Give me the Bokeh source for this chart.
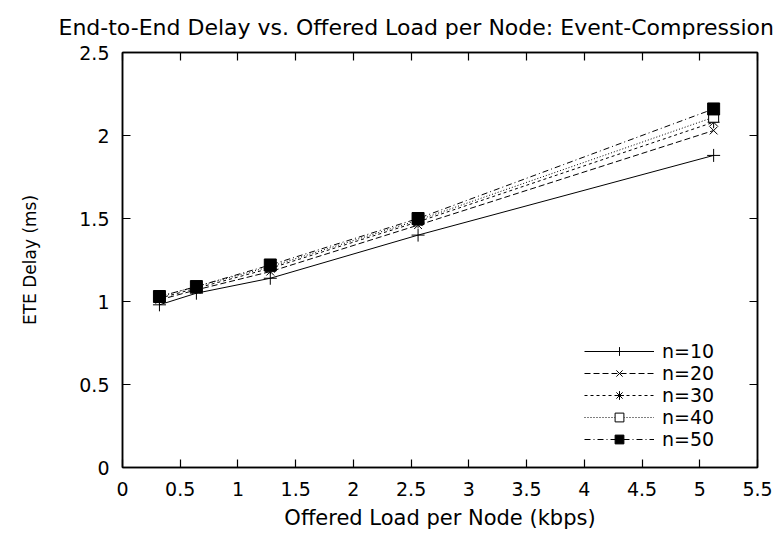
from bokeh.plotting import figure
from bokeh.models import LinearAxis, Legend, LegendItem, FixedTicker, Range1d, Title
from bokeh.embed import file_html
from bokeh.resources import INLINE

# ---- data ----
load_kbps = [0.32, 0.64, 1.28, 2.56, 5.12]
delay_n10 = [0.98, 1.05, 1.14, 1.40, 1.88]
delay_n20 = [1.01, 1.07, 1.18, 1.46, 2.03]
delay_n30 = [1.02, 1.08, 1.20, 1.48, 2.08]
delay_n40 = [1.03, 1.09, 1.21, 1.49, 2.11]
delay_n50 = [1.03, 1.09, 1.22, 1.50, 2.16]
series_labels = ["n=10", "n=20", "n=30", "n=40", "n=50"]
x_ticks = [0, 0.5, 1, 1.5, 2, 2.5, 3, 3.5, 4, 4.5, 5, 5.5]
y_ticks = [0, 0.5, 1, 1.5, 2, 2.5]

title_text = "End-to-End Delay vs. Offered Load per Node: Event-Compression"
x_label = "Offered Load per Node (kbps)"
y_label = "ETE Delay (ms)"

FONT = "DejaVu Sans"

p = figure(width=780, height=541, output_backend="svg", toolbar_location=None,
           x_range=Range1d(0, 5.5), y_range=Range1d(0, 2.5),
           min_border_left=122, min_border_right=23, min_border_top=52, min_border_bottom=74)
p.title = None

p.grid.visible = False
p.outline_line_color = "black"
p.outline_line_width = 1.5
p.background_fill_color = "white"
p.border_fill_color = "white"

def style_axis(ax):
    ax.axis_line_color = "black"
    ax.axis_line_width = 1.5
    ax.major_tick_in = 8
    ax.major_tick_out = 0
    ax.minor_tick_line_color = None
    ax.major_tick_line_color = "black"
    ax.major_tick_line_width = 1.2
    ax.major_label_text_font = FONT
    ax.major_label_text_font_size = "19px"
    ax.major_label_text_color = "black"
    ax.axis_label_text_font = FONT
    ax.axis_label_text_color = "black"
    ax.axis_label_text_font_style = "normal"

p.xaxis.ticker = FixedTicker(ticks=x_ticks)
p.yaxis.ticker = FixedTicker(ticks=y_ticks)
p.xaxis.axis_label = x_label
p.yaxis.axis_label = y_label
style_axis(p.xaxis[0])
style_axis(p.yaxis[0])
p.xaxis.axis_label_text_font_size = "21px"
p.yaxis.axis_label_text_font_size = "17px"
p.xaxis.major_label_standoff = 14
p.yaxis.major_label_standoff = 13
p.xaxis.axis_label_standoff = 7
p.yaxis.axis_label_standoff = 36

top = LinearAxis(ticker=FixedTicker(ticks=x_ticks),
                 major_label_overrides={t: "" for t in x_ticks})
right = LinearAxis(ticker=FixedTicker(ticks=y_ticks),
                   major_label_overrides={t: "" for t in y_ticks})
style_axis(top)
style_axis(right)
p.add_layout(top, "above")
p.add_layout(right, "right")

p.add_layout(Title(text=title_text, align="left", offset=-64, text_font=FONT,
                   text_font_size="22px", text_font_style="normal",
                   text_color="black", standoff=25), "above")

series = [delay_n10, delay_n20, delay_n30, delay_n40, delay_n50]
dashes = ["solid", "6 3", "3 3", "1 2", "6 3 1 3"]
markers = ["cross", "x", "asterisk", "square", "square"]
sizes = [13, 11, 12, 10, 12]
fills = ["black", "black", "black", "white", "black"]

items = []
for lab, ys, d, m, s, f in zip(series_labels, series, dashes, markers, sizes, fills):
    r1 = p.line(load_kbps, ys, line_color="black", line_width=1, line_dash=d)
    r2 = p.scatter(load_kbps, ys, marker=m, size=s, line_color="black", fill_color=f, line_width=1)
    items.append(LegendItem(label=lab, renderers=[r1, r2]))

legend = Legend(items=items, location=(462, 17), border_line_color=None,
                background_fill_alpha=0, glyph_width=70, glyph_height=22,
                label_height=22, spacing=0, padding=2, label_standoff=8,
                label_text_font=FONT, label_text_font_size="19px",
                label_text_color="black")
p.add_layout(legend, "center")

open("out.html", "w").write(file_html(p, INLINE))
